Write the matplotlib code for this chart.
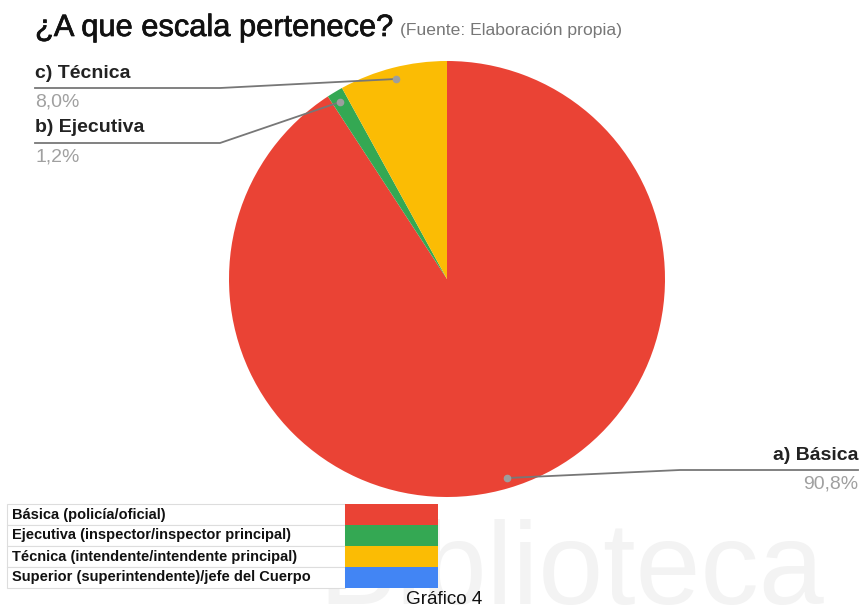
import matplotlib
matplotlib.use("Agg")
import matplotlib.pyplot as plt
from matplotlib.patches import Rectangle
import matplotlib.patheffects as pe

plt.rcParams['font.family'] = ['Liberation Sans', 'DejaVu Sans']

# Data
slice_labels = ["a) Básica", "b) Ejecutiva", "c) Técnica"]
slice_values = [90.8, 1.2, 8.0]
slice_pct_text = ["90,8%", "1,2%", "8,0%"]
slice_colors = ["#EA4335", "#34A853", "#FBBC04"]

legend_labels = ["Básica (policía/oficial)",
                 "Ejecutiva (inspector/inspector principal)",
                 "Técnica (intendente/intendente principal)",
                 "Superior (superintendente)/jefe del Cuerpo"]
legend_colors = ["#EA4335", "#34A853", "#FBBC04", "#4285F4"]

W, H = 863, 611
fig = plt.figure(figsize=(W / 100, H / 100), dpi=100)
ax = fig.add_axes([0, 0, 1, 1])

def Y(y):
    return H - y

# Watermark
ax.text(318, Y(604), "Biblioteca", fontsize=84, color="#f3f3f3",
        ha='left', va='baseline', zorder=0)

# Pie
cx, cy, r = 447, 279, 218
wedges, _ = ax.pie(slice_values, colors=slice_colors, startangle=90,
                   counterclock=False, center=(cx, Y(cy)), radius=r,
                   wedgeprops=dict(linewidth=0), frame=True)
ax.set_xlim(0, W)
ax.set_ylim(0, H)
ax.set_aspect('equal')
ax.axis('off')

# Title
ax.text(35, Y(28), "¿A que escala pertenece?", fontsize=22.2, color="#111111",
        ha='left', va='center',
        path_effects=[pe.withStroke(linewidth=0.5, foreground="#111111")])
ax.text(400, Y(31), "(Fuente: Elaboración propia)", fontsize=12.6, color="#777777",
        ha='left', va='center')

line_c = "#777777"
dot_c = "#9e9e9e"
lab_fs = 14.0
pct_c = "#a0a0a0"
# Leader lines: Técnica
ax.plot([35, 220, 396], [Y(88), Y(88), Y(79)], color=line_c, lw=1.3, zorder=3)
ax.plot([396], [Y(79)], 'o', color=dot_c, ms=4.5, zorder=4)
ax.text(35, Y(73), slice_labels[2], fontsize=lab_fs, fontweight='bold', color="#222222",
        ha='left', va='center')
ax.text(35, Y(102), slice_pct_text[2], fontsize=lab_fs, color=pct_c,
        ha='left', va='center')
# Ejecutiva
ax.plot([35, 220, 340], [Y(143), Y(143), Y(102)], color=line_c, lw=1.3, zorder=3)
ax.plot([340], [Y(102)], 'o', color=dot_c, ms=4.5, zorder=4)
ax.text(35, Y(128), slice_labels[1], fontsize=lab_fs, fontweight='bold', color="#222222",
        ha='left', va='center')
ax.text(35, Y(157), slice_pct_text[1], fontsize=lab_fs, color=pct_c,
        ha='left', va='center')
# Básica
ax.plot([507, 680, 858], [Y(478), Y(470), Y(470)], color=line_c, lw=1.3, zorder=3)
ax.plot([507], [Y(478)], 'o', color=dot_c, ms=4.5, zorder=4)
ax.text(858, Y(455), slice_labels[0], fontsize=lab_fs, fontweight='bold', color="#222222",
        ha='right', va='center')
ax.text(858, Y(484), slice_pct_text[0], fontsize=lab_fs, color=pct_c,
        ha='right', va='center')

# Legend table
top = 504
rh = 21
for i, (lab, col) in enumerate(zip(legend_labels, legend_colors)):
    y0 = top + i * rh
    ax.add_patch(Rectangle((7, Y(y0 + rh)), 338, rh, facecolor='white',
                           edgecolor='#dddddd', lw=0.8, zorder=5))
    ax.add_patch(Rectangle((345, Y(y0 + rh)), 93, rh, facecolor=col,
                           edgecolor='none', zorder=5))
    ax.text(12, Y(y0 + rh / 2), lab, fontsize=10.5, fontweight='bold', color="#111111",
            ha='left', va='center', zorder=6)

ax.text(444, Y(599), "Gráfico 4", fontsize=13.6, color="#111111",
        ha='center', va='center', zorder=6)

fig.savefig("out.png", dpi=100)
